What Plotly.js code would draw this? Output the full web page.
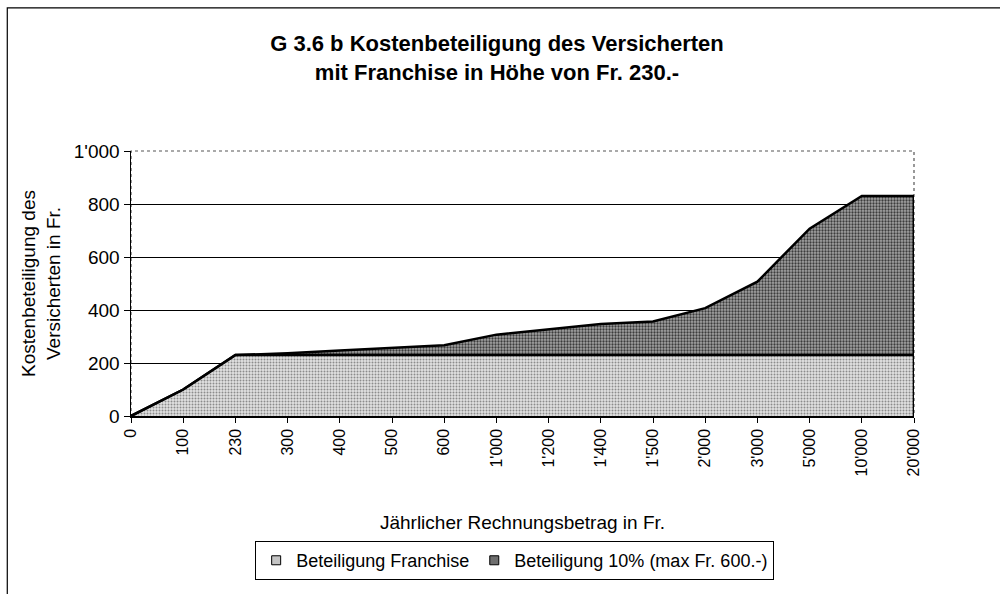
<!DOCTYPE html>
<html><head><meta charset="utf-8">
<script src="https://cdn.plot.ly/plotly-3.0.1.min.js"></script>
<style>html,body{margin:0;padding:0;background:#fff}#c{width:1000px;height:594px}</style>
</head><body><div id="c"></div>
<script>
const categories = ["0","100","230","300","400","500","600","1'000","1'200","1'400","1'500","2'000","3'000","5'000","10'000","20'000"];
const franchise = [0,100,230,230,230,230,230,230,230,230,230,230,230,230,230,230];
const zehnProzent = [0,0,0,7,17,27,37,77,97,117,127,177,277,477,600,600];
const seriesNames = ["Beteiligung Franchise","Beteiligung 10% (max Fr. 600.-)"];

const font = "Liberation Sans, Arial, sans-serif";
const last = categories.length - 1;
const totalLast = franchise[last] + zehnProzent[last];
const lightPat = {shape: '.', bgcolor: '#e2e2e2', fgcolor: '#8c8c8c', size: 3, solidity: 0.35};
const darkPat = {shape: '.', bgcolor: '#a4a4a4', fgcolor: '#3c3c3c', size: 3, solidity: 0.45};

const traces = [
  {x: categories, y: franchise, name: seriesNames[0], type: 'scatter', mode: 'lines',
   stackgroup: 'one', line: {color: '#000', width: 2.5}, showlegend: false,
   fillcolor: '#d2d2d2', fillpattern: lightPat},
  {x: categories, y: zehnProzent, name: seriesNames[1], type: 'scatter', mode: 'lines',
   stackgroup: 'one', line: {color: '#000', width: 2.5}, showlegend: false,
   fillcolor: '#8e8e8e', fillpattern: darkPat},
  {x: [null], y: [null], name: seriesNames[0], type: 'scatter', mode: 'markers',
   marker: {symbol: 'square', size: 9, color: '#c4c4c4', line: {color: '#000', width: 1}}},
  {x: [null], y: [null], name: seriesNames[1], type: 'scatter', mode: 'markers',
   marker: {symbol: 'square', size: 9, color: '#6e6e6e', line: {color: '#000', width: 1}}}
];

const layout = {
  width: 1000, height: 594,
  margin: {l: 131, r: 86, t: 151, b: 178},
  paper_bgcolor: '#fff', plot_bgcolor: '#fff',
  separators: ".'",
  font: {family: font, color: '#000', size: 18},
  title: {text: "<b>G 3.6 b Kostenbeteiligung des Versicherten<br>mit Franchise in Höhe von Fr. 230.-</b>",
          x: 0.497, xanchor: 'center', y: 0.914, yanchor: 'top',
          font: {family: font, size: 22, color: '#000'}},
  showlegend: true,
  legend: {orientation: 'h', x: 0.49, xanchor: 'center', y: -0.472, yanchor: 'top',
           bordercolor: '#000', borderwidth: 1, bgcolor: '#fff',
           font: {family: font, size: 18}, itemwidth: 30, traceorder: 'normal'},
  xaxis: {type: 'category', range: [0, last], showgrid: false, zeroline: false,
          showline: true, linecolor: '#000', linewidth: 1.5,
          ticks: 'outside', ticklen: 5, tickcolor: '#000', tickangle: -90,
          tickfont: {family: font, size: 16},
          title: {text: "Jährlicher Rechnungsbetrag in Fr.", standoff: 40, font: {family: font, size: 19}}},
  yaxis: {range: [0, 1000], dtick: 200, separatethousands: true,
          showgrid: true, gridcolor: '#000', gridwidth: 1, zeroline: false,
          showline: true, linecolor: '#000', linewidth: 1.5,
          ticks: 'outside', ticklen: 6, tickcolor: '#000',
          tickfont: {family: font, size: 19},
          title: {text: "Kostenbeteiligung des<br>Versicherten in Fr.", standoff: 8, font: {family: font, size: 19}}},
  shapes: [
    {type: 'rect', xref: 'paper', yref: 'paper', x0: 0, x1: 1, y0: 0, y1: 1,
     line: {color: '#555', width: 1.2, dash: 'dot'}, layer: 'below'},
    {type: 'line', xref: 'x', yref: 'y', x0: last, x1: last, y0: 0, y1: totalLast,
     line: {color: '#000', width: 2.5}, layer: 'above'},
    {type: 'path', xref: 'paper', yref: 'paper',
     path: 'M -0.158,-0.68 L -0.158,1.54 L 1.12,1.54', line: {color: '#000', width: 1.2}}
  ]
};

Plotly.newPlot('c', traces, layout, {displayModeBar: false, staticPlot: true});
</script></body></html>
